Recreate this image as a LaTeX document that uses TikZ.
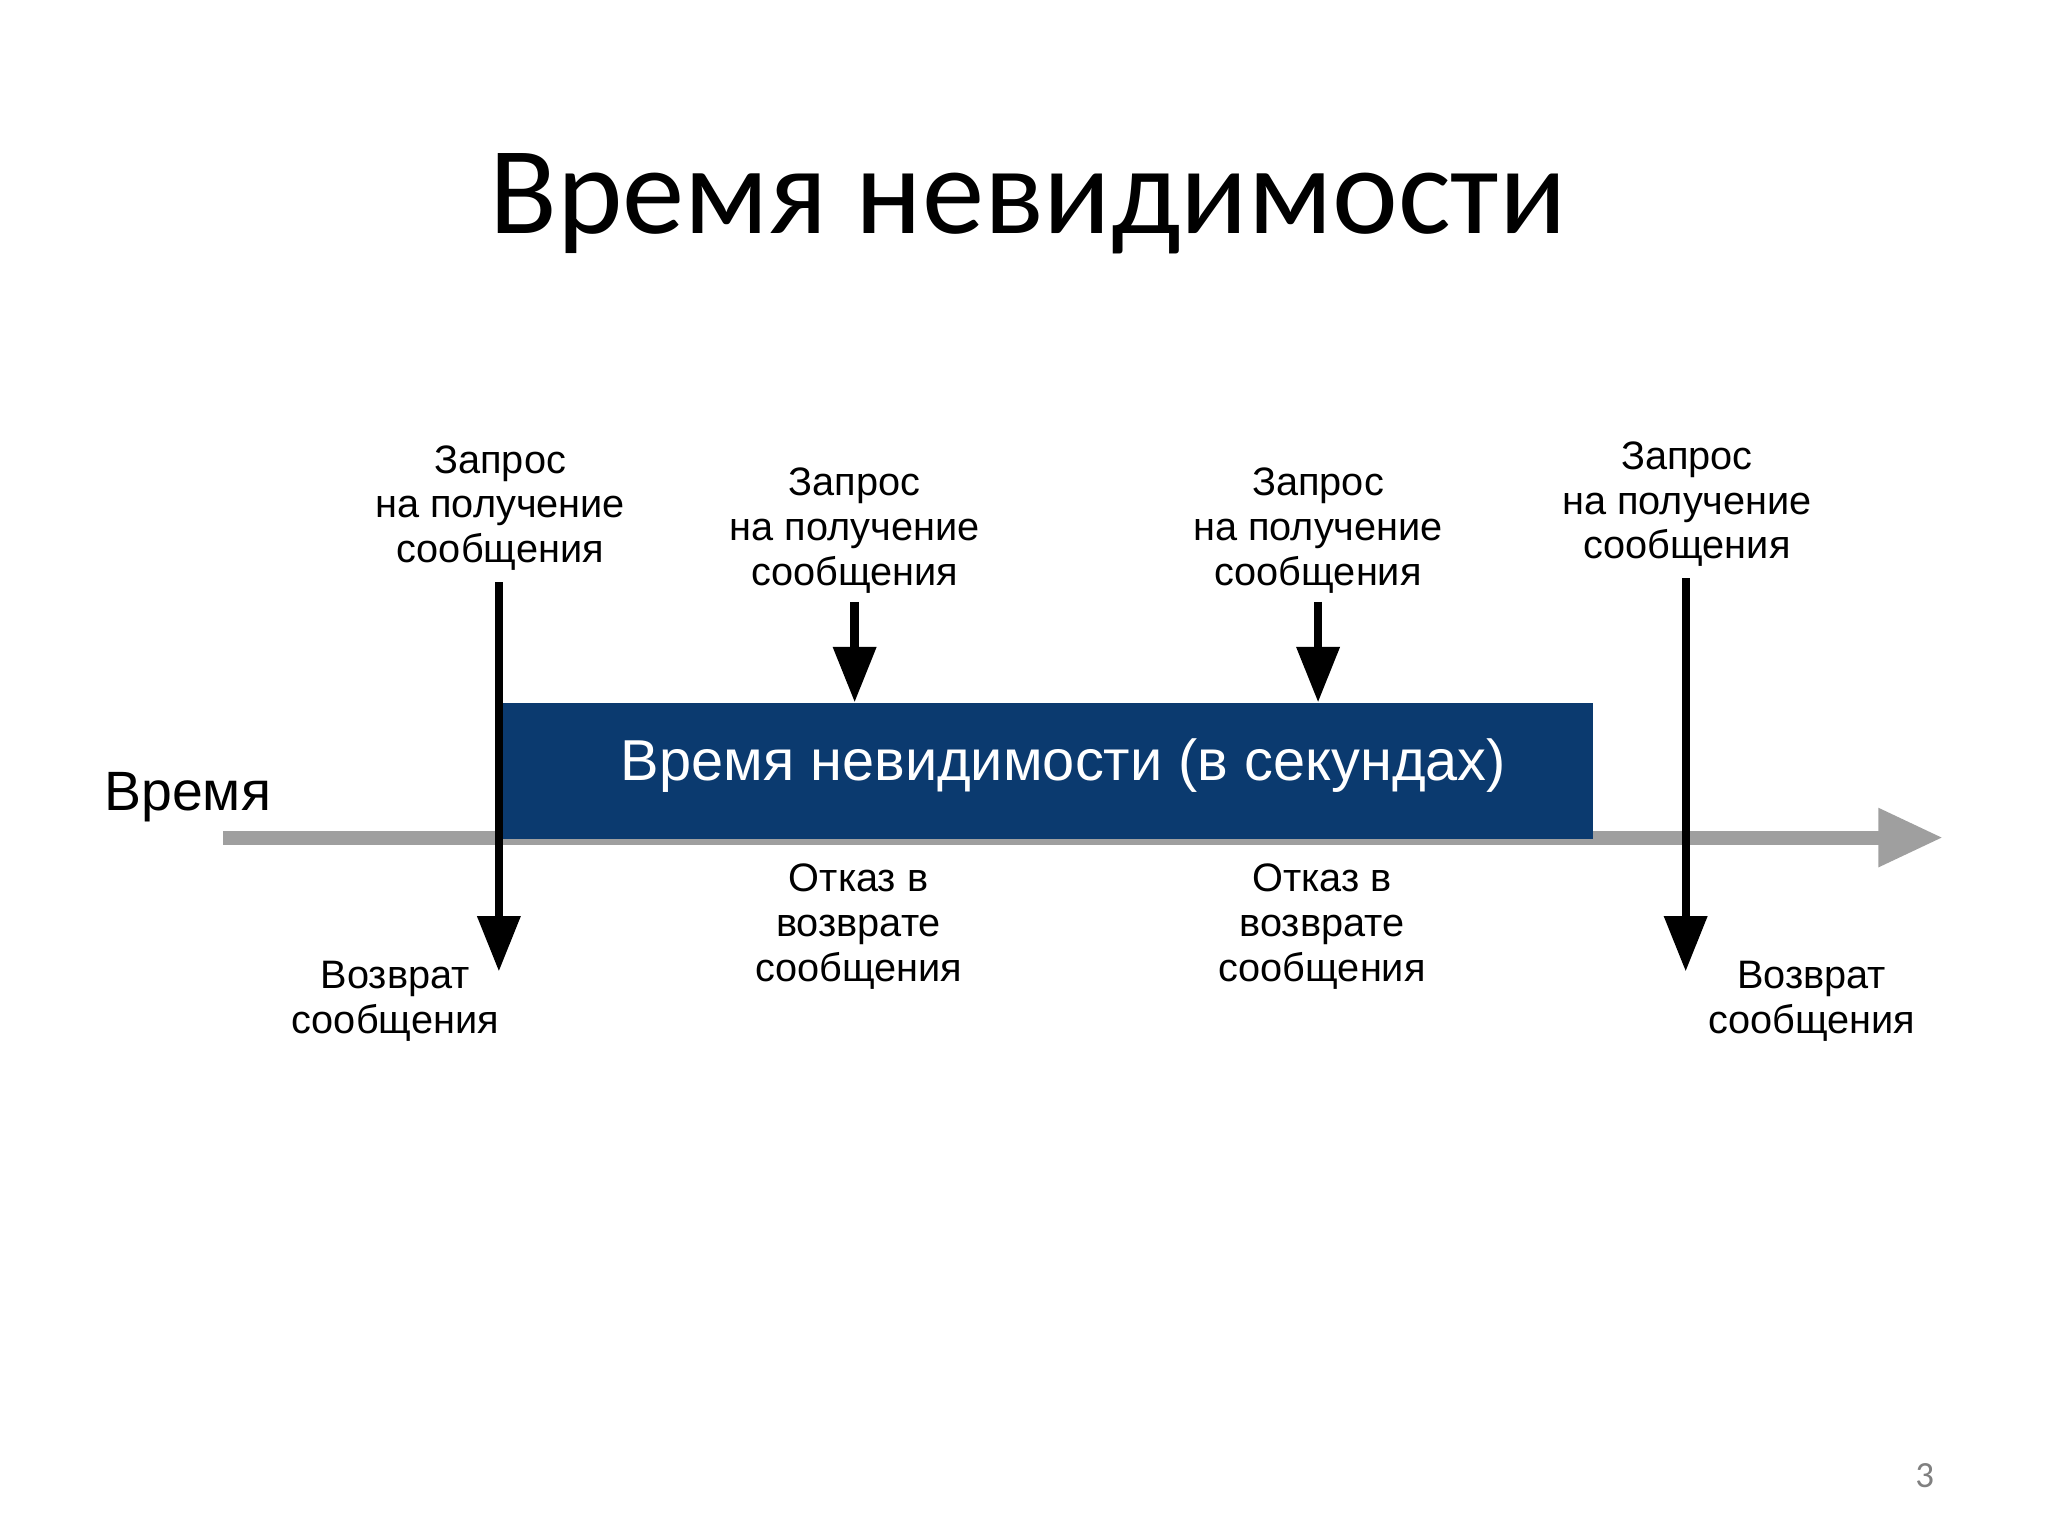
\documentclass[tikz,border=0pt]{standalone}
\usepackage{fontspec}
\setmainfont{Liberation Sans}
\newfontfamily\titlefont{Carlito}
\usetikzlibrary{arrows.meta}
\definecolor{boxblue}{HTML}{0B3A6F}
\tikzset{
 lbl/.style={align=center,font=\fontsize{8.6pt}{9.7pt}\selectfont,inner sep=0pt},
 darr/.style={line width=1.8pt,-{Triangle[length=12pt,width=9pt]}},
}
\begin{document}
\begin{tikzpicture}[x=0.01cm,y=-0.01cm]
\useasboundingbox (0,0) rectangle (1560,1170);
\node[font=\titlefont\fontsize{27pt}{32pt}\selectfont] (title) at (783,155) {Время невидимости};
\coordinate (as) at (170,638);
\coordinate (ae) at (1480,638);
\draw[gray!75,line width=3pt,-{Triangle[length=14pt,width=12pt]}] (as) -- (ae);
\node[fill=boxblue,minimum width=8.3cm,minimum height=1.03cm,anchor=north west,inner sep=0pt] (box) at (382,535) {};
\node[text=white,font=\fontsize{12.5pt}{14pt}\selectfont] (boxt) at (810,583) {Время невидимости (в секундах)};
\node[font=\fontsize{12pt}{14pt}\selectfont] (time) at (143,607) {Время};
\node[lbl] (q1) at (381,387) {Запрос\\на получение\\сообщения};
\node[lbl] (q2) at (651,404) {Запрос\\на получение\\сообщения};
\node[lbl] (q3) at (1004,404) {Запрос\\на получение\\сообщения};
\node[lbl] (q4) at (1285,384) {Запрос\\на получение\\сообщения};
\coordinate (e1) at (380,740);
\coordinate (e4) at (1284,740);
\draw[darr] (q1.south -| e1) ++(0,8) -- (e1);
\draw[darr] (q2.south) ++(0,6) -- (box.north -| q2);
\draw[darr] (q3.south) ++(0,6) -- (box.north -| q3);
\draw[darr] (q4.south -| e4) ++(0,8) -- (e4);
\node[lbl] (r1) at (654,706) {Отказ в\\возврате\\сообщения};
\node[lbl] (r2) at (1007,706) {Отказ в\\возврате\\сообщения};
\node[lbl] (v1) at (301,763) {Возврат\\сообщения};
\node[lbl] (v2) at (1380,763) {Возврат\\сообщения};
\node[text=gray,font=\titlefont\fontsize{8pt}{9pt}\selectfont] (pg) at (1466,1124) {3};
\end{tikzpicture}
\end{document}
